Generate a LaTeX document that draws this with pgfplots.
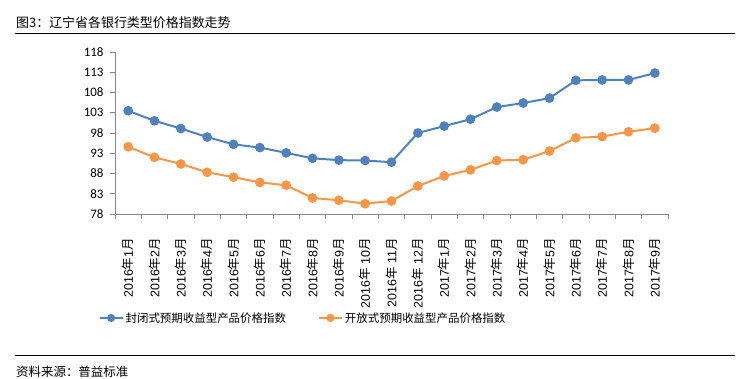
\documentclass[border=0pt]{standalone}
\usepackage{fontspec}
\setmainfont{Noto Sans CJK SC}
\newfontfamily\carlito{Carlito}
\newfontfamily\lib{Liberation Sans}
\newcommand\ym[2]{{\lib #1}年{\lib #2}月}
\usepackage{pgfplots}
\pgfplotsset{compat=1.18}
\definecolor{cblue}{HTML}{4F81BD}
\definecolor{corange}{HTML}{F79646}
\definecolor{axgray}{HTML}{868686}
\begin{document}
\begin{tikzpicture}
\path[use as bounding box] (0bp,0bp) rectangle (742bp,379bp);
\node[anchor=west, font=\fontsize{13}{14}\selectfont, inner sep=0] at (16bp,356bp) {图3：辽宁省各银行类型价格指数走势};
\draw[line width=1bp] (15bp,345.5bp) -- (735bp,345.5bp);
\draw[line width=1bp] (15bp,23.5bp) -- (735bp,23.5bp);
\node[anchor=west, font=\fontsize{12.5}{14}\selectfont, inner sep=0] at (16bp,7bp) {资料来源：普益标准};
\begin{axis}[
  at={(115bp,165bp)}, anchor=south west,
  scale only axis, width=553bp, height=162bp,
  xmin=-0.5, xmax=20.5, ymin=78, ymax=118,
  ytick={78,83,...,118},
  xtick={0,...,20},
  xticklabels={{\ym{2016}{1}},{\ym{2016}{2}},{\ym{2016}{3}},{\ym{2016}{4}},{\ym{2016}{5}},{\ym{2016}{6}},{\ym{2016}{7}},{\ym{2016}{8}},{\ym{2016}{9}},{\ym{2016}{ 10}},{\ym{2016}{ 11}},{\ym{2016}{ 12}},{\ym{2017}{1}},{\ym{2017}{2}},{\ym{2017}{3}},{\ym{2017}{4}},{\ym{2017}{5}},{\ym{2017}{6}},{\ym{2017}{7}},{\ym{2017}{8}},{\ym{2017}{9}}},
  minor xtick={-0.5,0.5,...,20.5},
  axis x line*=bottom, axis y line*=left,
  axis line style={draw=axgray, line width=0.8bp, -},
  tick align=outside,
  major tick length=5bp, minor tick length=5bp,
  every tick/.style={draw=axgray, line width=0.8bp},
  every major x tick/.style={draw=none},
  /pgf/number format/assume math mode=true,
  yticklabel style={font=\carlito\fontsize{13}{13}\selectfont, xshift=-3bp},
  xticklabel style={rotate=90, anchor=east, inner sep=0pt, font=\fontsize{12.5}{12.5}\selectfont},
  xticklabel shift=19bp,
  legend style={at={(-0.03,-0.642)}, anchor=west, draw=none, fill=none, inner sep=0pt,
    font=\fontsize{11.5}{11.5}\selectfont, /tikz/every even column/.append style={column sep=30bp}},
  legend columns=2,
  legend image code/.code={\draw[mark repeat=2,mark phase=2, mark size=3bp] plot coordinates {(0bp,0bp)(11.5bp,0bp)(23bp,0bp)};},
]
\addplot[cblue, line width=2bp, mark=*, mark size=3.8bp, mark options={fill=cblue, draw=cblue}] coordinates {
(0,103.5)(1,101.0)(2,99.1)(3,97.0)(4,95.2)(5,94.4)(6,93.1)(7,91.75)(8,91.3)(9,91.2)(10,90.8)
(11,98.0)(12,99.7)(13,101.4)(14,104.4)(15,105.4)(16,106.6)(17,111.0)(18,111.1)(19,111.1)(20,112.8)};
\addlegendentry{封闭式预期收益型产品价格指数}
\addplot[corange, line width=2bp, mark=*, mark size=3.8bp, mark options={fill=corange, draw=corange}] coordinates {
(0,94.6)(1,92.0)(2,90.35)(3,88.3)(4,87.1)(5,85.8)(6,85.1)(7,81.95)(8,81.4)(9,80.55)(10,81.2)
(11,84.9)(12,87.4)(13,88.9)(14,91.2)(15,91.4)(16,93.55)(17,96.8)(18,97.1)(19,98.3)(20,99.2)};
\addlegendentry{开放式预期收益型产品价格指数}
\end{axis}
\end{tikzpicture}
\end{document}
